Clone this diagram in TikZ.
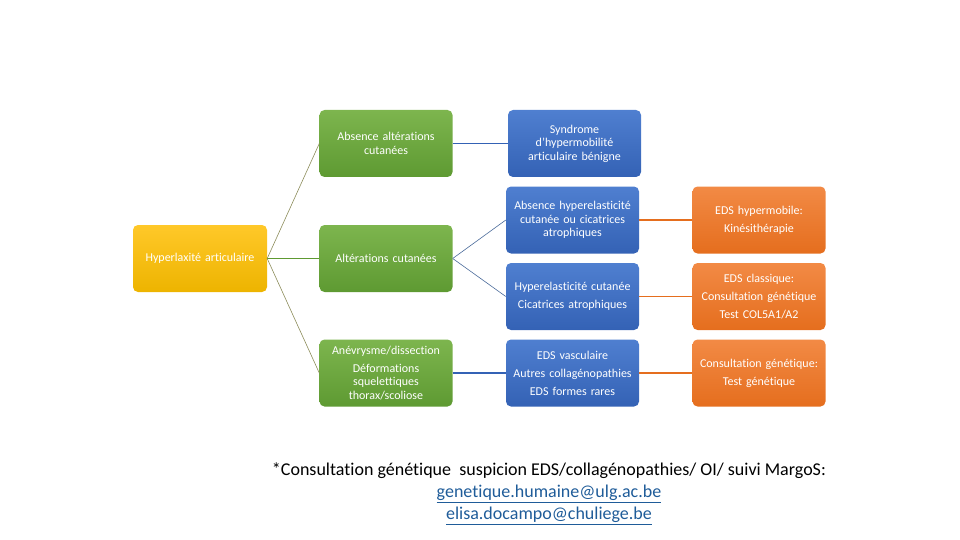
\documentclass[tikz,border=0pt]{standalone}
\usepackage{fontspec}
\setmainfont{Carlito}[Ligatures=NoCommon]
\usetikzlibrary{positioning}
\definecolor{grT}{HTML}{7DB54E}
\definecolor{grB}{HTML}{5E9A32}
\definecolor{blT}{HTML}{4F7FD0}
\definecolor{blB}{HTML}{3462B5}
\definecolor{orT}{HTML}{F28A45}
\definecolor{orB}{HTML}{E56E1E}
\definecolor{yeT}{HTML}{FFC829}
\definecolor{yeB}{HTML}{EDB400}
\definecolor{lnk}{HTML}{1F5C99}
\definecolor{olive}{HTML}{8C8C5A}
\definecolor{bline}{HTML}{4A6A9A}
\tikzset{
  box/.style={rounded corners=5pt, minimum width=133pt, minimum height=67pt,
    text width=129pt, align=center, text=white, font=\fontsize{12}{13.5}\selectfont, inner sep=2pt},
  gbox/.style={box, top color=grT, bottom color=grB},
  bbox/.style={box, top color=blT, bottom color=blB},
  obox/.style={box, top color=orT, bottom color=orB, font=\fontsize{12}{18}\selectfont},
  ybox/.style={box, top color=yeT, bottom color=yeB, minimum width=134pt},
  thinol/.style={draw=olive, line width=0.6pt},
  thickgr/.style={draw=grB, line width=1.6pt},
  thinbl/.style={draw=bline, line width=0.6pt},
  thickbl/.style={draw=blB, line width=1.4pt},
  orl/.style={draw=orB, line width=1.6pt}
}
\begin{document}
\begin{tikzpicture}[x=1pt,y=-1pt]
\useasboundingbox (0,0) rectangle (960,540);
\node[ybox] (hyp) at (200,258.5) {Hyperlaxité articulaire};
\node[gbox] (g1) at (386,143.5) {Absence altérations\\cutanées};
\node[gbox] (g2) at (386,258.5) {Altérations cutanées};
\node[gbox] (g3) at (386,373) {Anévrysme/dissection\\[4pt]Déformations\\squelettiques\\thorax/scoliose};
\node[bbox] (b1) at (574.5,143.5) {Syndrome\\d’hypermobilité\\articulaire bénigne};
\node[bbox] (b2) at (572.5,220) {Absence hyperelasticité\\cutanée ou cicatrices\\atrophiques};
\node[bbox, font=\fontsize{12}{18}\selectfont] (b3) at (572.5,296.5) {Hyperelasticité cutanée\\Cicatrices atrophiques};
\node[bbox, font=\fontsize{12}{18}\selectfont] (b4) at (572.5,373) {EDS vasculaire\\Autres collagénopathies\\EDS formes rares};
\node[obox] (o1) at (759,220) {EDS hypermobile:\\Kinésithérapie};
\node[obox] (o2) at (759,296.5) {EDS classique:\\Consultation génétique\\Test COL5A1/A2};
\node[obox] (o3) at (759,373) {Consultation génétique:\\Test génétique};
\draw[thinol] (hyp.east) -- (g1.west);
\draw[thickgr] (hyp.east) -- (g2.west);
\draw[thinol] (hyp.east) -- (g3.west);
\draw[thickbl] (g1.east) -- (b1.west);
\draw[thinbl] (g2.east) -- (b2.west);
\draw[thinbl] (g2.east) -- (b3.west);
\draw[thickbl] (g3.east) -- (b4.west);
\draw[orl] (b2.east) -- (o1.west);
\draw[orl] (b3.east) -- (o2.west);
\draw[orl] (b4.east) -- (o3.west);
\node[align=center, font=\fontsize{18}{22}\selectfont, inner sep=0pt] (foot) at (549,494)
  {*Consultation génétique\ \ suspicion EDS/collagénopathies/ OI/ suivi MargoS:\\
   \textcolor{lnk}{\underline{genetique.humaine@ulg.ac.be}}\\
   \textcolor{lnk}{\underline{elisa.docampo@chuliege.be}}};
\end{tikzpicture}
\end{document}
